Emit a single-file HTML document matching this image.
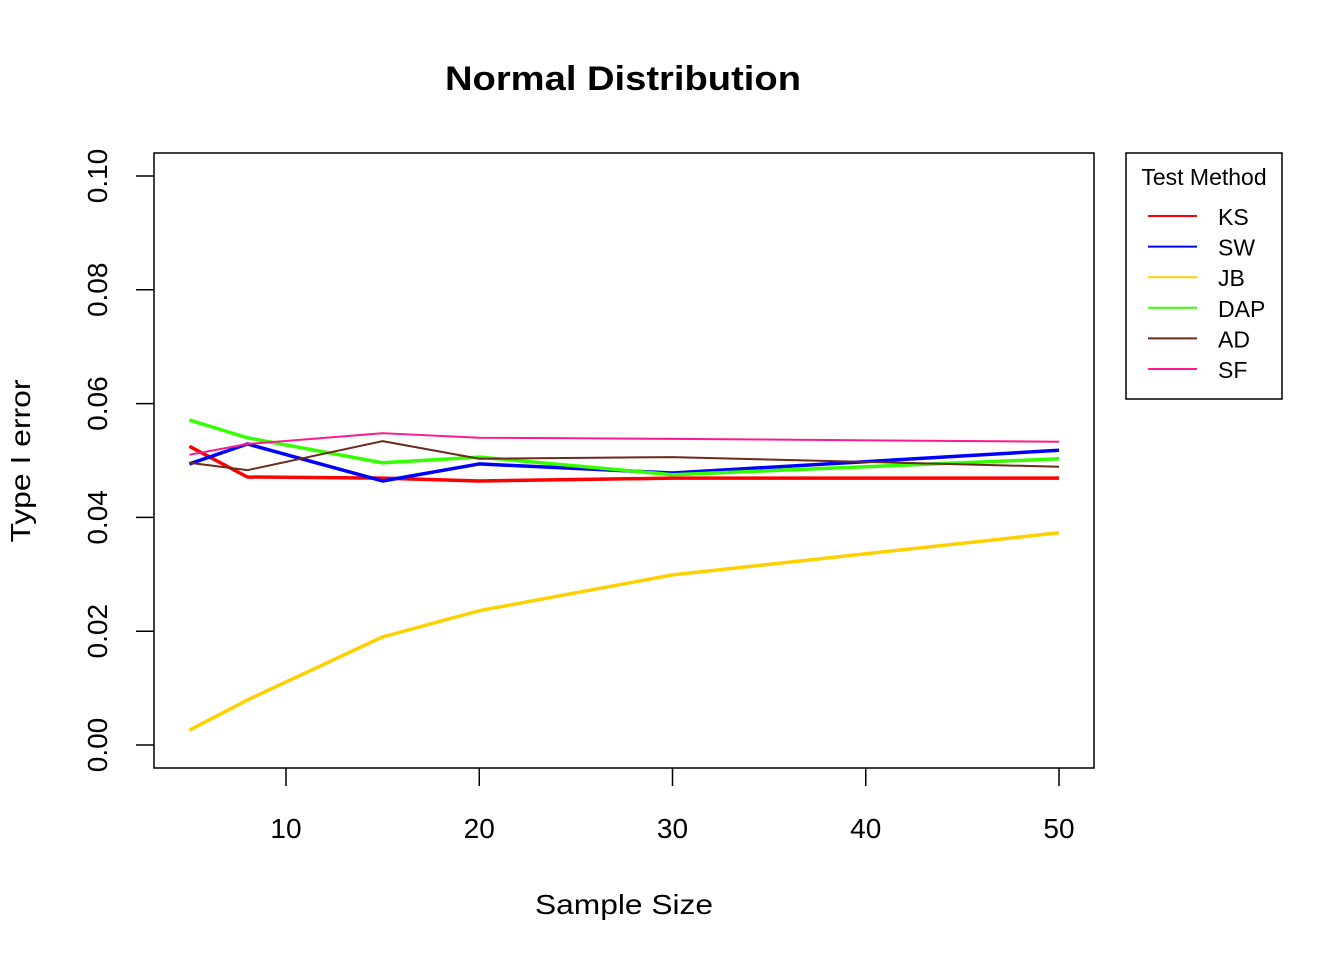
<!DOCTYPE html>
<html><head><meta charset="utf-8"><style>body{margin:0;background:#fff}svg{display:block;font-family:"Liberation Sans",Arial,sans-serif}</style></head>
<body>
<svg id="c" width="1344" height="960">
<text x="623" y="90" text-anchor="middle" font-size="34" font-weight="bold" textLength="356" lengthAdjust="spacingAndGlyphs">Normal Distribution</text>
<rect x="154" y="153" width="940" height="615" fill="none" stroke="#000" stroke-width="1.5"/>
<text x="624" y="914" text-anchor="middle" font-size="28" textLength="178" lengthAdjust="spacingAndGlyphs">Sample Size</text>
<text transform="translate(30,461) rotate(-90)" text-anchor="middle" font-size="28" textLength="163" lengthAdjust="spacingAndGlyphs">Type I error</text>
<g id="axes"></g><g id="lines"></g>
<g>
<rect x="1126" y="153" width="156" height="246" fill="#fff" stroke="#000" stroke-width="1.5"/>
<text x="1204" y="185" text-anchor="middle" font-size="23">Test Method</text>
<g id="leg"></g></g>
</svg>
<script>
const sizes=[5,8,15,20,30,50];
const names=["KS","SW","JB","DAP","AD","SF"];
const colors=["#ff0000","#0000ff","#ffd000","#33ff00","#6b2a1c","#ff1a8c"];
const widths=[3.5,3.5,3.5,3.5,2,2];
const ks=[0.0525,0.0471,0.0469,0.0464,0.0469,0.0469];
const sw=[0.0494,0.0529,0.0464,0.0494,0.0478,0.0518];
const jb=[0.0026,0.0079,0.0190,0.0236,0.0299,0.0373];
const dap=[0.0571,0.0540,0.0496,0.0506,0.0475,0.0503];
const ad=[0.0496,0.0483,0.0534,0.0503,0.0506,0.0489];
const sf=[0.0510,0.0529,0.0548,0.0540,0.0538,0.0533];
const series=[ks,sw,jb,dap,ad,sf];
const xTicks=[10,20,30,40,50];
const yTicks=["0.00","0.02","0.04","0.06","0.08","0.10"];
const NS="http://www.w3.org/2000/svg";
const X=v=>286+(v-10)*(1059-286)/40;
const Y=v=>745-v*(745-176)/0.1;
function mk(t,a,p){const e=document.createElementNS(NS,t);for(const k in a)e.setAttribute(k,a[k]);p.appendChild(e);return e;}
const ax=document.getElementById('axes');
xTicks.forEach(t=>{
 const l=mk('line',{x1:X(t),x2:X(t),y1:768,y2:786,stroke:'#000','stroke-width':1.5},ax);
 
 
 const s=mk('text',{x:X(t),y:838,'text-anchor':'middle','font-size':28},ax);s.textContent=t;
 
 
});
yTicks.forEach(t=>{
 const y=Y(parseFloat(t));
 const l=mk('line',{x1:136,x2:154,y1:y,y2:y,stroke:'#000','stroke-width':1.5},ax);
 
 
 const s=mk('text',{transform:`translate(107,${y}) rotate(-90)`,'text-anchor':'middle','font-size':28},ax);s.textContent=t;
 
 
});
const lg=document.getElementById('lines'),leg=document.getElementById('leg');
series.forEach((d,i)=>{
 const p=mk('polyline',{points:d.map((v,j)=>X(sizes[j])+','+Y(v)).join(' '),fill:'none',stroke:colors[i],'stroke-width':widths[i],'stroke-linejoin':'round'},lg);
 
 
 const y=216+i*30.6;
 const l=mk('line',{x1:1148,x2:1197,y1:y,y2:y,stroke:colors[i],'stroke-width':2},leg);
 
 
 const t=mk('text',{x:1218,y:y+9,'font-size':23},leg);t.textContent=names[i];
 
 
});
</script>
</body></html>
